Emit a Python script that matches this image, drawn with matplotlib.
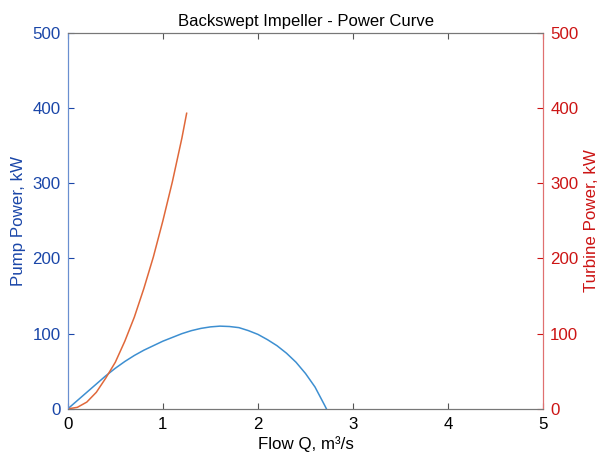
"""
plot.py
Backswept impeller - pump and turbine power curves
"""

import matplotlib
matplotlib.use("Agg")
import matplotlib.pyplot as plt

plt.rcParams['font.family'] = ['Liberation Sans', 'DejaVu Sans']

# Pump power curve (left axis)
pump_q = [0.0, 0.1, 0.2, 0.3, 0.4, 0.5, 0.6, 0.7, 0.8, 0.9, 1.0, 1.1, 1.2, 1.3,
          1.4, 1.5, 1.6, 1.7, 1.8, 1.9, 2.0, 2.1, 2.2, 2.3, 2.4, 2.5, 2.6, 2.7, 2.72]
pump_kw = [0, 11, 22, 33, 44, 54, 63, 71, 78, 84, 90, 95, 100, 104,
           107, 109, 110, 109.5, 108, 104, 99, 92, 84, 74, 62, 47, 29, 5, 0]

# Turbine power curve (right axis)
turb_q = [0.0, 0.1, 0.2, 0.3, 0.4, 0.5, 0.6, 0.7, 0.8, 0.9, 1.0, 1.1, 1.2, 1.25]
turb_kw = [0, 2, 9, 22, 41, 62, 90, 122, 160, 202, 250, 302, 360, 393]

x_ticks = [0, 1, 2, 3, 4, 5]
y_ticks = [0, 100, 200, 300, 400, 500]

LEFT_CLR = '#1a46a8'
RIGHT_CLR = '#cc1414'
FS = 12.2

fig = plt.figure(figsize=(6.05, 4.62), dpi=100)
ax = fig.add_axes([0.112, 0.115, 0.786, 0.814])
ax2 = ax.twinx()

ax.plot(pump_q, pump_kw, color='#3d8fd1', lw=1.1)
ax2.plot(turb_q, turb_kw, color='#e0683a', lw=1.1)

ax.set_xlim(0, 5)
ax.set_ylim(0, 500)
ax2.set_ylim(0, 500)
ax.set_xticks(x_ticks)
ax.set_yticks(y_ticks)
ax2.set_yticks(y_ticks)

ax.set_title('Backswept Impeller - Power Curve', fontsize=12, pad=5)
ax.set_xlabel('Flow Q, m³/s', fontsize=FS, labelpad=3)
ax.set_ylabel('Pump Power, kW', fontsize=FS, color=LEFT_CLR, labelpad=5)
ax2.set_ylabel('Turbine Power, kW', fontsize=FS, color=RIGHT_CLR, labelpad=4)

ax.tick_params(axis='x', direction='in', length=4, top=True, labelsize=FS,
               color='#555555', pad=6)
ax.tick_params(axis='y', direction='in', length=4, labelsize=FS,
               colors=LEFT_CLR, pad=5)
ax2.tick_params(axis='y', direction='in', length=4, labelsize=FS,
                colors=RIGHT_CLR, pad=5)

for a in (ax, ax2):
    a.spines['top'].set_color('#777777')
    a.spines['bottom'].set_color('#777777')
    a.spines['left'].set_color('#6a8fd0')
    a.spines['right'].set_color('#e07070')
    for s in a.spines.values():
        s.set_linewidth(0.8)

fig.savefig('out.png', dpi=100)
